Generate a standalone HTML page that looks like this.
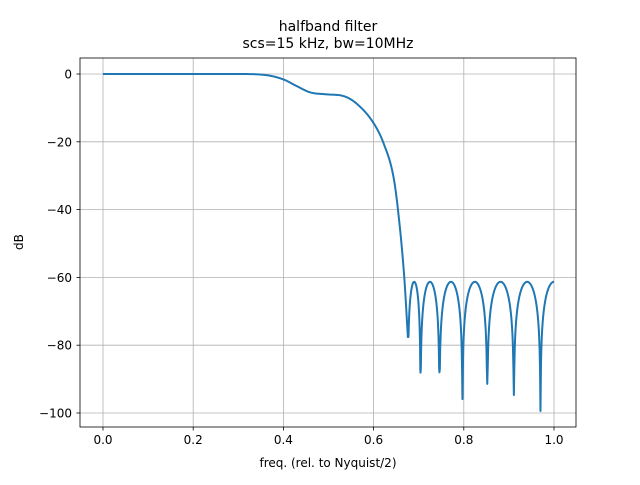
<!DOCTYPE html>
<html><head><meta charset="utf-8"><style>
body{margin:0;background:#fff}
svg text{font-family:"DejaVu Sans","Liberation Sans",sans-serif;fill:#000}
</style></head><body>
<svg width="640" height="480">
<rect width="640" height="480" fill="#fff"/>
<g id="grid"></g>
<g id="ticks"></g>
<path id="line" fill="none" stroke="#1f77b4" stroke-width="2" stroke-linejoin="round"/>
<rect x="80" y="58" width="496" height="369" fill="none" stroke="#000" stroke-width="0.8"/>
<text x="328" y="31" font-size="14" text-anchor="middle">halfband filter</text>
<text x="328" y="48" font-size="14" text-anchor="middle">scs=15 kHz, bw=10MHz</text>
<text x="328" y="467" font-size="12" text-anchor="middle">freq. (rel. to Nyquist/2)</text>
<text x="23" y="242" font-size="12" text-anchor="middle" transform="rotate(-90 23 242)">dB</text>
</svg>
<script>
const xTicks=[0,0.2,0.4,0.6,0.8,1.0];
const yTicks=[0,-20,-40,-60,-80,-100];
const passFreq=[0,0.3,0.36,0.4,0.43,0.459,0.496,0.533,0.562,0.6,0.622,0.644,0.654,0.668,0.676];
const passDb=[0,0,-0.3,-1.6,-3.6,-5.4,-6.0,-6.5,-8.7,-14.5,-20.4,-30.3,-40,-60,-77.6];
const nullFreq=[0.676,0.704,0.746,0.797,0.852,0.911,0.970];
const nullDb=[-77.6,-88.1,-88,-95.9,-91.4,-94.7,-99.4];
const peakDb=-61.3;
const endFreq=1.0;
const X=f=>103+f*451, Y=d=>74-d*3.39;
const ns="http://www.w3.org/2000/svg";
const grid=document.getElementById('grid'),tk=document.getElementById('ticks');
function el(t,a,p){const e=document.createElementNS(ns,t);for(const k in a)e.setAttribute(k,a[k]);p.appendChild(e);return e;}
xTicks.forEach(v=>{const x=X(v);
 const g=el('line',{x1:x,x2:x,y1:58,y2:427,stroke:'#b0b0b0','stroke-width':0.8},grid);
 
 
 el('line',{x1:x,x2:x,y1:427,y2:430.5,stroke:'#000','stroke-width':0.8},tk);
 const t=el('text',{x:x,y:444,'font-size':12,'text-anchor':'middle'},tk);t.textContent=v.toFixed(1);
 
 });
yTicks.forEach(v=>{const y=Y(v);
 const g=el('line',{x1:80,x2:576,y1:y,y2:y,stroke:'#b0b0b0','stroke-width':0.8},grid);
 
 
 el('line',{x1:76.5,x2:80,y1:y,y2:y,stroke:'#000','stroke-width':0.8},tk);
 const t=el('text',{x:72,y:y+4.5,'font-size':12,'text-anchor':'end'},tk);t.textContent=v<0?'\u2212'+(-v):''+v;
 
 });
// monotone cubic interpolation of passband
function monotone(xs,ys){const n=xs.length,d=[],m=[];
 for(let i=0;i<n-1;i++)d.push((ys[i+1]-ys[i])/(xs[i+1]-xs[i]));
 m[0]=d[0];m[n-1]=d[n-2];
 for(let i=1;i<n-1;i++){m[i]=(d[i-1]*d[i]<=0)?0:(d[i-1]+d[i])/2;}
 for(let i=0;i<n-1;i++){if(d[i]===0){m[i]=0;m[i+1]=0;continue;}const a=m[i]/d[i],b=m[i+1]/d[i],s=a*a+b*b;if(s>9){const t=3/Math.sqrt(s);m[i]=t*a*d[i];m[i+1]=t*b*d[i];}}
 const out=[];
 for(let i=0;i<n-1;i++){const h=xs[i+1]-xs[i];const k=20;for(let j=0;j<k;j++){const t=j/k,t2=t*t,t3=t2*t;
  const y=(2*t3-3*t2+1)*ys[i]+(t3-2*t2+t)*h*m[i]+(-2*t3+3*t2)*ys[i+1]+(t3-t2)*h*m[i+1];out.push([xs[i]+t*h,y]);}}
 out.push([xs[n-1],ys[n-1]]);return out;}
let pts=monotone(passFreq,passDb);
function lobe(f0,f1,d0,d1,span){const n=60;for(let k=1;k<=n;k++){const f=f0+(f1-f0)*k/n;const t=(f-f0)/span;
 let v=peakDb+20*Math.log10(Math.max(Math.abs(Math.sin(Math.PI*t)),1e-6));
 const floor=t<0.5?d0:d1;v=Math.max(v,floor);pts.push([f,v]);}}
for(let i=0;i<nullFreq.length-1;i++){lobe(nullFreq[i],nullFreq[i+1],nullDb[i],nullDb[i+1],nullFreq[i+1]-nullFreq[i]);pts[pts.length-1][1]=nullDb[i+1];}
const last=nullFreq[nullFreq.length-1];lobe(last,endFreq,nullDb[nullDb.length-1],peakDb,2*(endFreq-last));
document.getElementById('line').setAttribute('d',pts.map((p,i)=>(i?'L':'M')+X(p[0]).toFixed(2)+' '+Y(p[1]).toFixed(2)).join(''));
</script>
</body></html>
